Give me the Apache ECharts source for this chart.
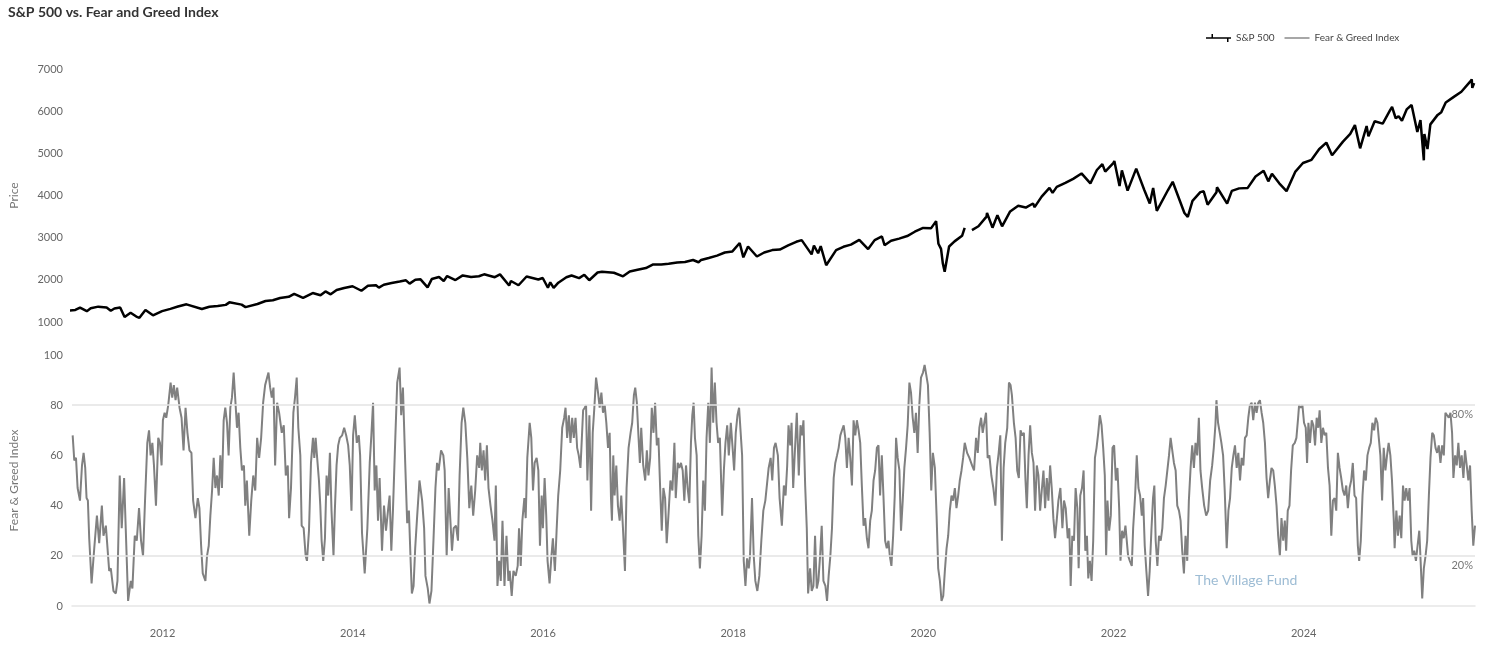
<!DOCTYPE html>
<html><head><meta charset="utf-8">
<script src="https://cdn.jsdelivr.net/npm/echarts@6/dist/echarts.min.js"></script>
<style>html,body{margin:0;padding:0;background:#fff}#c{width:1487px;height:646px}</style>
</head><body><div id="c"></div>
<script>
var titleText = 'S&P 500 vs. Fear and Greed Index';
var xTickYears = [2012, 2014, 2016, 2018, 2020, 2022, 2024];
var priceTicks = [1000, 2000, 3000, 4000, 5000, 6000, 7000];
var fgTicks = [0, 20, 40, 60, 80, 100];
var fgBands = [80, 20];
var xRange = [2011.047, 2025.801];

var spxDates = ['2011-01-07','2011-01-31','2011-02-18','2011-03-16','2011-03-31','2011-04-29','2011-05-31','2011-06-16','2011-06-30','2011-07-22','2011-08-08','2011-08-31','2011-09-22','2011-10-04','2011-10-27','2011-11-25','2011-12-30',
'2012-01-31','2012-02-29','2012-04-02','2012-05-31','2012-06-04','2012-06-29','2012-07-31','2012-08-31','2012-09-14','2012-10-31','2012-11-15','2012-12-31',
'2013-01-31','2013-02-28','2013-03-28','2013-04-30','2013-05-21','2013-06-24','2013-07-31','2013-08-30','2013-09-18','2013-10-08','2013-10-31','2013-11-29','2013-12-31',
'2014-02-03','2014-02-28','2014-03-31','2014-04-11','2014-04-30','2014-05-30','2014-06-30','2014-07-24','2014-08-07','2014-08-29','2014-09-18','2014-10-15','2014-10-31','2014-11-28','2014-12-16','2014-12-29',
'2015-01-30','2015-02-27','2015-03-31','2015-04-30','2015-05-20','2015-06-30','2015-07-20','2015-08-24','2015-08-31','2015-09-29','2015-10-30','2015-11-03','2015-12-14','2015-12-31',
'2016-01-20','2016-01-29','2016-02-11','2016-02-29','2016-03-31','2016-04-20','2016-05-19','2016-06-08','2016-06-27','2016-07-29','2016-08-15','2016-09-30','2016-11-04','2016-11-30','2016-12-30',
'2017-01-31','2017-02-28','2017-03-31','2017-04-28','2017-05-31','2017-06-30','2017-07-31','2017-08-21','2017-08-31','2017-09-29','2017-10-31','2017-11-30','2017-12-29',
'2018-01-26','2018-02-09','2018-02-27','2018-04-02','2018-04-30','2018-05-31','2018-06-29','2018-07-31','2018-08-31','2018-09-21','2018-10-29','2018-11-07','2018-11-23','2018-12-03','2018-12-24',
'2019-01-31','2019-02-28','2019-03-29','2019-04-30','2019-06-03','2019-06-28','2019-07-26','2019-08-05','2019-08-30','2019-09-30','2019-10-31','2019-11-29','2019-12-31',
'2020-01-31','2020-02-19','2020-02-28','2020-03-09','2020-03-13','2020-03-16','2020-03-23','2020-04-09','2020-04-30','2020-05-29','2020-06-08','2020-06-20','2020-07-06','2020-07-31','2020-08-31','2020-09-02','2020-09-23','2020-10-12','2020-10-30','2020-11-30','2020-12-31',
'2021-01-29','2021-02-26','2021-03-04','2021-03-31','2021-04-30','2021-05-12','2021-05-28','2021-06-30','2021-07-30','2021-08-31','2021-09-02','2021-10-04','2021-10-29','2021-11-19','2021-11-30','2021-12-31',
'2022-01-04','2022-01-24','2022-02-02','2022-02-24','2022-03-29','2022-04-29','2022-05-20','2022-06-02','2022-06-16','2022-07-29','2022-08-16','2022-09-30','2022-10-13','2022-10-31','2022-11-30','2022-12-13','2022-12-28',
'2023-01-31','2023-02-02','2023-03-13','2023-03-31','2023-04-28','2023-05-31','2023-06-30','2023-07-31','2023-08-18','2023-09-01','2023-09-29','2023-10-27','2023-11-30','2023-12-29',
'2024-01-31','2024-02-29','2024-03-28','2024-04-19','2024-04-30','2024-05-31','2024-06-28','2024-07-16','2024-08-05','2024-08-30','2024-09-06','2024-09-30','2024-10-31','2024-11-29','2024-12-06','2024-12-20','2024-12-31',
'2025-01-13','2025-01-31','2025-02-19','2025-03-13','2025-03-25','2025-04-07','2025-04-09','2025-04-21','2025-05-02','2025-05-30','2025-06-13','2025-06-30','2025-07-31','2025-08-29','2025-09-30','2025-10-08','2025-10-10','2025-10-17'];
var spxValues = [1271,1286,1343,1257,1326,1364,1345,1268,1321,1345,1119,1219,1129,1099,1285,1159,1258,
1312,1366,1419,1310,1278,1362,1379,1406,1466,1412,1353,1426,
1498,1515,1569,1598,1669,1573,1686,1633,1725,1656,1757,1806,1848,
1741,1859,1872,1816,1884,1924,1960,1988,1910,2003,2011,1821,2018,2068,1973,2090,
1995,2105,2068,2086,2131,2063,2129,1867,1972,1872,2079,2110,2008,2044,
1812,1940,1810,1932,2060,2102,2040,2119,1991,2174,2194,2168,2084,2199,2239,
2279,2364,2363,2384,2412,2423,2470,2417,2472,2519,2575,2648,2674,
2873,2533,2790,2553,2648,2705,2718,2816,2902,2941,2603,2815,2631,2800,2346,
2704,2784,2834,2946,2729,2942,3028,2822,2926,2977,3038,3141,3231,
3226,3393,2855,2734,2711,2386,2192,2790,2912,3044,3232,null,3180,3271,3500,3588,3237,3534,3270,3622,3756,
3714,3811,3723,3973,4181,4063,4204,4298,4395,4523,4545,4288,4605,4743,4567,4766,
4818,4223,4595,4115,4637,4132,3811,4177,3637,4130,4325,3586,3492,3872,4080,4100,3783,
4077,4195,3809,4109,4169,4180,4450,4589,4336,4515,4288,4104,4568,4770,
4846,5096,5254,4953,5036,5278,5460,5669,5119,5648,5402,5762,5705,6032,6099,5832,5882,
5773,6041,6147,5505,5787,4835,5457,5102,5687,5912,5977,6205,6339,6460,6688,6753,6552,6664];

var fgYears = [2011.054,2011.071,2011.089,2011.106,2011.131,2011.152,2011.169,2011.186,2011.200,2011.214,2011.228,2011.253,2011.281,2011.309,2011.333,2011.361,2011.378,2011.403,2011.438,2011.455,2011.483,2011.508,2011.525,2011.549,2011.570,2011.595,2011.612,2011.637,2011.665,2011.682,2011.707,2011.728,2011.752,2011.773,2011.794,2011.815,2011.839,2011.857,2011.874,2011.892,2011.909,2011.930,2011.954,2011.972,2011.989,
2012.003,2012.021,2012.038,2012.059,2012.084,2012.101,2012.118,2012.136,2012.153,2012.178,2012.199,2012.220,2012.241,2012.261,2012.282,2012.303,2012.321,2012.345,2012.370,2012.387,2012.405,2012.422,2012.450,2012.467,2012.485,2012.502,2012.520,2012.537,2012.555,2012.572,2012.590,2012.607,2012.624,2012.642,2012.659,2012.677,2012.694,2012.712,2012.729,2012.747,2012.764,2012.782,2012.799,2012.817,2012.834,2012.855,2012.869,2012.886,2012.911,2012.932,2012.953,2012.974,2012.994,
2013.015,2013.036,2013.057,2013.078,2013.099,2013.113,2013.131,2013.148,2013.166,2013.183,2013.204,2013.225,2013.253,2013.274,2013.295,2013.316,2013.330,2013.350,2013.375,2013.392,2013.410,2013.427,2013.448,2013.462,2013.483,2013.504,2013.518,2013.539,2013.560,2013.581,2013.595,2013.609,2013.623,2013.644,2013.658,2013.672,2013.689,2013.707,2013.724,2013.741,2013.759,2013.776,2013.797,2013.811,2013.829,2013.846,2013.864,2013.888,2013.909,2013.930,2013.951,2013.968,2013.986,
2014.003,2014.021,2014.042,2014.063,2014.077,2014.097,2014.125,2014.153,2014.178,2014.195,2014.213,2014.230,2014.248,2014.265,2014.282,2014.307,2014.328,2014.349,2014.370,2014.387,2014.405,2014.422,2014.447,2014.467,2014.492,2014.509,2014.527,2014.551,2014.572,2014.590,2014.607,2014.621,2014.639,2014.656,2014.677,
2014.701,2014.729,2014.750,2014.764,2014.788,2014.806,2014.827,2014.848,2014.869,2014.886,2014.903,2014.928,2014.952,2014.966,2014.987,
2015.008,2015.026,2015.043,2015.061,2015.085,2015.106,2015.123,2015.144,2015.162,2015.183,2015.204,2015.225,2015.246,2015.266,2015.287,2015.308,2015.329,2015.340,2015.357,2015.375,2015.392,2015.410,2015.427,2015.448,2015.469,2015.490,2015.504,2015.521,2015.539,2015.556,2015.574,2015.595,2015.616,2015.636,2015.650,2015.671,2015.689,2015.713,2015.734,2015.748,2015.766,2015.783,2015.804,2015.818,2015.835,2015.860,2015.877,2015.895,2015.912,2015.933,2015.951,2015.968,2015.986,2015.999,
2016.017,2016.034,2016.048,2016.069,2016.087,2016.104,2016.125,2016.143,2016.160,2016.181,2016.202,2016.223,2016.237,2016.254,2016.272,2016.289,2016.307,2016.324,2016.342,2016.359,2016.376,2016.394,2016.404,2016.422,2016.439,2016.453,2016.467,2016.488,2016.506,2016.523,2016.540,2016.558,2016.579,2016.596,2016.614,2016.631,2016.649,2016.666,2016.684,2016.701,2016.715,2016.725,2016.739,2016.753,2016.771,2016.788,2016.806,2016.823,2016.841,2016.862,2016.879,2016.900,2016.921,2016.938,2016.956,2016.970,2016.987,
2017.005,2017.019,2017.033,2017.054,2017.075,2017.092,2017.109,2017.127,2017.144,2017.162,2017.179,2017.197,2017.214,2017.232,2017.249,2017.266,2017.284,2017.301,2017.319,2017.340,2017.361,2017.382,2017.396,2017.417,2017.434,2017.451,2017.469,2017.486,2017.504,2017.521,2017.539,2017.556,2017.570,2017.584,2017.598,2017.616,2017.633,2017.650,2017.668,2017.685,2017.703,2017.720,2017.738,2017.755,2017.773,2017.790,2017.807,2017.825,2017.842,2017.860,2017.884,2017.902,2017.919,2017.937,2017.954,2017.975,2017.992,
2018.010,2018.027,2018.045,2018.062,2018.080,2018.094,2018.111,2018.129,2018.146,2018.164,2018.177,2018.198,2018.216,2018.233,2018.254,2018.275,2018.296,2018.317,2018.338,2018.356,2018.373,2018.394,2018.411,2018.429,
2018.446,2018.470,2018.488,2018.512,2018.533,2018.551,2018.568,2018.582,2018.600,2018.614,2018.631,2018.648,2018.669,2018.690,2018.708,2018.725,2018.739,2018.757,2018.774,2018.788,2018.809,2018.826,2018.844,2018.861,2018.879,2018.896,2018.914,2018.931,2018.949,2018.970,2018.987,
2019.004,2019.022,2019.039,2019.057,2019.074,2019.092,2019.109,2019.127,2019.144,2019.162,2019.179,2019.196,2019.214,2019.231,2019.249,2019.266,2019.284,2019.301,2019.319,2019.336,2019.353,2019.371,2019.388,2019.406,2019.423,2019.441,2019.458,2019.476,2019.493,2019.511,2019.528,2019.545,2019.563,2019.580,2019.598,2019.615,2019.633,2019.647,2019.664,2019.682,2019.699,2019.713,2019.730,2019.748,2019.765,2019.783,2019.800,2019.818,2019.835,2019.853,2019.870,2019.888,2019.905,2019.922,2019.940,2019.957,2019.975,2019.996,
2020.013,2020.031,2020.048,2020.066,2020.083,2020.100,2020.121,2020.139,2020.156,2020.174,2020.191,2020.209,2020.226,2020.244,2020.261,2020.278,2020.296,2020.313,2020.331,2020.348,2020.366,2020.383,2020.401,2020.418,2020.435,2020.460,2020.484,2020.512,2020.533,2020.554,2020.572,2020.589,2020.607,2020.624,2020.641,2020.659,2020.676,2020.694,2020.715,2020.736,2020.757,2020.774,2020.792,2020.809,2020.826,2020.844,2020.861,2020.882,2020.900,2020.917,2020.931,2020.952,2020.970,2020.987,
2021.004,2021.022,2021.039,2021.057,2021.074,2021.088,2021.106,2021.123,2021.141,2021.158,2021.175,2021.193,2021.210,2021.228,2021.245,2021.263,2021.280,2021.298,2021.315,2021.333,2021.350,2021.367,2021.385,2021.402,2021.420,2021.441,2021.462,2021.479,2021.497,2021.518,2021.535,2021.549,2021.566,2021.584,2021.601,2021.619,2021.633,2021.650,2021.668,2021.685,2021.703,2021.720,2021.734,2021.751,2021.769,2021.786,2021.804,2021.821,2021.839,2021.856,2021.874,2021.891,2021.908,2021.922,2021.936,2021.954,2021.971,2021.989,
2022.006,2022.024,2022.041,2022.059,2022.073,2022.090,2022.107,2022.125,
2022.153,2022.171,2022.192,2022.206,2022.227,2022.244,2022.262,2022.279,2022.297,2022.311,2022.328,2022.345,2022.363,2022.380,2022.398,2022.415,2022.429,2022.443,2022.461,2022.478,2022.496,2022.513,2022.530,2022.548,2022.565,2022.583,2022.600,2022.618,2022.635,2022.653,2022.670,2022.688,2022.705,2022.722,2022.740,2022.757,2022.775,2022.792,2022.810,2022.827,2022.845,2022.862,2022.880,2022.897,2022.914,2022.932,2022.953,2022.974,2022.995,
2023.016,2023.037,2023.054,2023.071,2023.082,2023.099,2023.117,2023.134,2023.152,2023.169,2023.190,2023.208,2023.225,2023.243,2023.260,2023.277,2023.295,2023.312,2023.330,2023.347,2023.365,2023.382,2023.400,2023.417,2023.434,2023.452,2023.469,2023.487,2023.504,2023.522,2023.539,2023.557,2023.574,2023.592,2023.609,2023.626,2023.644,2023.661,2023.679,2023.696,2023.714,2023.731,2023.749,2023.766,2023.784,2023.801,2023.815,2023.832,2023.850,2023.867,2023.885,2023.906,2023.923,2023.941,2023.951,2023.969,2023.986,
2024.003,2024.021,2024.035,2024.049,2024.066,2024.084,2024.101,2024.119,2024.136,2024.153,2024.167,2024.185,2024.202,2024.220,2024.237,2024.255,2024.272,2024.290,2024.307,2024.325,2024.342,2024.359,2024.377,2024.394,2024.412,2024.429,2024.447,2024.464,2024.482,2024.499,2024.516,2024.534,2024.551,2024.569,2024.583,2024.600,2024.618,2024.635,2024.653,2024.670,2024.688,2024.705,2024.722,2024.740,2024.757,2024.775,2024.789,2024.806,2024.824,2024.841,2024.859,2024.876,2024.893,2024.911,2024.928,2024.946,2024.956,2024.974,2024.991,
2025.009,2025.026,2025.044,2025.061,2025.078,2025.096,2025.113,2025.131,2025.145,2025.162,2025.180,2025.197,2025.215,2025.229,2025.246,2025.263,2025.281,2025.298,2025.316,2025.333,2025.351,2025.368,2025.386,2025.403,2025.420,2025.438,2025.455,2025.473,2025.490,2025.508,2025.525,2025.543,2025.560,2025.574,2025.592,2025.609,2025.626,2025.644,2025.661,2025.679,2025.696,2025.714,2025.731,2025.749,2025.766,2025.783,2025.801];

var fgValues = [68,58,59,47,42,56,61,55,43,42,27,9,23,36,25,40,28,32,14,15,6,5,10,52,31,51,31,2,10,7,28,26,39,26,20,42,65,70,60,65,56,40,67,65,56,
74,77,75,80,89,83,88,82,87,79,75,62,79,69,62,61,42,35,43,39,24,13,10,20,24,36,46,59,47,52,44,60,47,74,79,73,60,79,83,93,93,71,77,63,54,56,40,50,28,42,52,46,67,
59,67,81,88,91,93,87,83,87,56,81,77,69,72,52,56,35,47,77,83,91,71,60,32,31,20,18,30,57,67,59,67,60,50,40,26,18,27,52,44,61,38,20,38,56,64,67,68,71,68,64,56,38,
68,76,65,68,60,29,13,31,57,68,81,46,56,34,51,22,40,30,38,44,22,38,67,89,95,76,87,57,33,38,19,5,8,23,36,
50,42,31,12,7,1,6,26,47,57,54,62,60,54,20,
47,47,22,31,32,26,52,73,79,73,59,39,48,36,46,60,55,65,54,62,50,64,47,40,34,26,48,8,18,10,34,8,28,10,14,4,14,12,16,31,16,34,43,35,59,73,67,46,57,59,54,24,44,31,
51,36,18,9,19,27,14,30,44,54,71,75,79,67,76,65,75,67,75,63,60,55,63,78,79,80,50,76,38,69,79,91,85,79,85,77,80,73,63,69,43,34,60,44,56,40,34,44,31,14,47,63,69,73,84,87,81,
67,57,71,56,50,62,52,59,79,69,81,64,67,47,30,47,43,25,36,50,46,65,43,57,55,57,54,42,56,47,41,65,76,81,67,60,28,15,28,50,38,67,81,65,95,73,89,73,65,67,36,54,65,72,60,73,64,
54,69,76,79,79,60,18,8,19,15,20,43,20,10,6,12,26,38,42,42,55,59,50,63,
65,60,43,32,48,44,56,72,64,73,47,61,77,52,72,68,74,48,31,5,15,6,8,28,7,10,20,32,10,8,2,
12,20,31,51,57,60,63,68,70,72,67,55,67,59,48,74,68,74,70,65,48,32,35,27,23,34,38,50,54,63,64,44,60,44,26,23,26,20,16,28,44,67,59,54,30,42,55,63,72,89,85,75,69,77,61,80,91,93,
96,92,88,69,46,61,55,36,15,10,2,4,14,23,28,38,44,42,47,39,44,50,54,59,65,61,59,56,54,67,61,71,75,69,73,77,59,60,52,47,40,55,61,68,26,55,65,71,89,88,84,73,67,54,
51,70,68,69,50,39,60,72,61,57,38,56,52,38,46,54,39,51,42,56,47,35,27,34,42,47,31,42,39,27,31,8,28,26,47,39,15,44,47,54,22,28,11,18,10,26,59,63,69,76,72,63,52,20,42,30,36,63,
64,50,55,39,18,30,27,32,
20,18,16,31,44,60,47,44,36,43,24,14,4,14,30,43,48,26,16,28,26,31,43,48,48,60,67,67,57,54,40,38,34,22,13,28,18,42,55,64,55,65,60,75,54,47,40,36,38,
50,56,63,72,82,73,69,65,60,46,23,38,43,55,60,64,55,61,50,59,56,67,68,75,80,81,74,81,77,81,82,77,73,65,51,43,50,55,54,48,40,28,20,35,26,34,22,38,40,54,64,65,67,75,80,79,80,
73,71,57,73,65,74,72,64,75,71,78,65,71,68,69,55,48,28,42,43,38,61,55,51,46,44,48,39,47,50,57,44,43,24,18,26,44,54,50,60,63,65,73,70,75,73,67,60,42,63,54,60,65,60,50,35,23,38,28,
36,27,48,42,47,42,47,26,20,22,18,24,30,18,3,15,20,26,44,59,69,68,63,61,64,57,64,60,77,76,75,77,69,51,60,56,65,55,60,51,62,56,50,56,38,24,32];

function dateToYear(s) {
  var d = Date.parse(s + 'T00:00:00Z');
  var y = new Date(d).getUTCFullYear();
  var a = Date.UTC(y, 0, 1), b = Date.UTC(y + 1, 0, 1);
  return y + (d - a) / (b - a);
}
var spxData = spxDates.map(function (d, i) { return [dateToYear(d), spxValues[i] == null ? '-' : spxValues[i]]; });
var fgData = fgYears.map(function (t, i) { return [t, fgValues[i]]; });

var FONT = 'Lato, "Noto Sans", sans-serif';
var chart = echarts.init(document.getElementById('c'), null, { renderer: 'canvas' });
chart.setOption({
  animation: false,
  backgroundColor: '#ffffff',
  textStyle: { fontFamily: FONT },
  title: { text: titleText, left: 3, top: 0, textStyle: { fontFamily: FONT, fontSize: 14, fontWeight: 'bold', color: '#333' } },
  legend: {
    left: 1201, top: 28, itemWidth: 25, itemHeight: 8, itemGap: 10,
    textStyle: { fontFamily: FONT, fontSize: 10, color: '#444' },
    data: [
      { name: 'S&P 500', icon: 'path://M0,3.2H25V4.8H0Z M5.5,0H7V4H5.5Z M21,4H22.5V8H21Z', itemStyle: { color: '#000' } },
      { name: 'Fear & Greed Index', icon: 'path://M0,0h0.01v0.01h-0.01Z M24.99,7.99h0.01v0.01h-0.01Z M0,3.3H25V4.7H0Z', itemStyle: { color: '#8a8a8a' } }
    ]
  },
  graphic: [{ type: 'text', left: 1195, top: 573, silent: true, style: { text: 'The Village Fund', fill: '#9dbcd4', font: '14px ' + FONT } }],
  grid: [
    { left: 66, right: 12, top: 69, height: 253 },
    { left: 66, right: 12, top: 355, height: 251 }
  ],
  xAxis: [
    { type: 'value', gridIndex: 0, min: xRange[0], max: xRange[1], axisLine: { show: false }, axisTick: { show: false }, axisLabel: { show: false }, splitLine: { show: false } },
    { type: 'value', gridIndex: 1, min: xRange[0], max: xRange[1],
      axisLine: { show: true, lineStyle: { color: '#e6e6e6', width: 1.5 } }, axisTick: { show: false }, splitLine: { show: false },
      axisLabel: { customValues: xTickYears, formatter: function (v) { return String(Math.round(v)); }, color: '#666', fontSize: 11, margin: 22, fontFamily: FONT } }
  ],
  yAxis: [
    { type: 'value', gridIndex: 0, min: priceTicks[0], max: priceTicks[priceTicks.length - 1], interval: 1000,
      name: 'Price', nameLocation: 'middle', nameGap: 52, nameTextStyle: { color: '#777', fontSize: 12, fontFamily: FONT },
      axisLine: { show: false }, axisTick: { show: false }, splitLine: { show: false },
      axisLabel: { color: '#666', fontSize: 11, margin: 9, fontFamily: FONT, formatter: function (v) { return String(v); } } },
    { type: 'value', gridIndex: 1, min: fgTicks[0], max: fgTicks[fgTicks.length - 1], interval: 20,
      name: 'Fear & Greed Index', nameLocation: 'middle', nameGap: 52, nameTextStyle: { color: '#777', fontSize: 12, fontFamily: FONT },
      axisLine: { show: false }, axisTick: { show: false }, splitLine: { show: false },
      axisLabel: { color: '#666', fontSize: 11, margin: 9, fontFamily: FONT, formatter: function (v) { return String(v); } } }
  ],
  series: [
    { name: 'guides', type: 'line', xAxisIndex: 1, yAxisIndex: 1, data: [], z: 1, silent: true,
      markLine: { silent: true, symbol: 'none', animation: false,
        lineStyle: { color: '#e3e3e3', type: 'solid', width: 1.5 },
        label: { show: true, position: 'insideEndBottom', distance: [2, 4], color: '#777', fontSize: 11, fontFamily: FONT,
          formatter: function (p) { return p.value + '%'; } },
        data: fgBands.map(function (v) { return { yAxis: v }; }) } },
    { name: 'S&P 500', type: 'line', xAxisIndex: 0, yAxisIndex: 0, data: spxData, symbol: 'none', z: 3, connectNulls: false,
      lineStyle: { color: '#000', width: 2.5 }, itemStyle: { color: '#000' } },
    { name: 'Fear & Greed Index', type: 'line', xAxisIndex: 1, yAxisIndex: 1, data: fgData, symbol: 'none', z: 2,
      lineStyle: { color: '#808080', width: 2 }, itemStyle: { color: '#808080' } }
  ]
});
</script>
</body></html>
